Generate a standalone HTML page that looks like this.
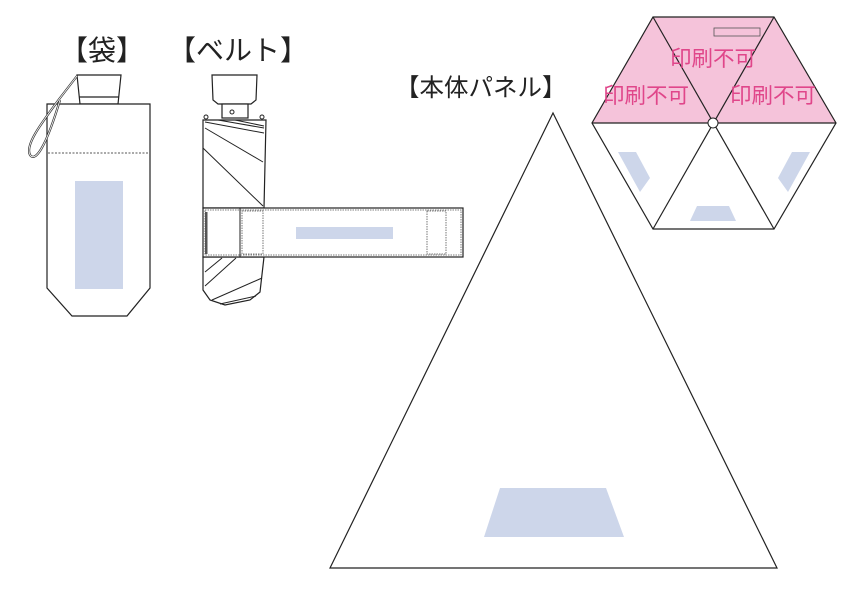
<!DOCTYPE html>
<html><head><meta charset="utf-8"><style>
html,body{margin:0;padding:0;background:#fff;}
svg{display:block;}
text{font-family:"Liberation Sans","Noto Sans CJK JP",sans-serif;}
</style></head><body>
<svg width="848" height="600" viewBox="0 0 848 600" xmlns="http://www.w3.org/2000/svg">
<rect width="848" height="600" fill="#fff"/>
<g fill="#222" font-size="28">
<text x="60" y="60">【袋】</text>
<text x="168" y="60">【ベルト】</text>
<text x="395" y="96" font-size="24.5">【本体パネル】</text>
</g>
<!-- bag -->
<g stroke="#222" stroke-width="1.2" fill="#fff">
<path d="M77 75 L121 75 L118 104 L80 104 Z"/>
<line x1="79" y1="97" x2="119" y2="97"/>
<path d="M47 104 L150 104 L150 288 L127 316 L72 316 L47 288 Z"/>
</g>
<line x1="48" y1="153" x2="149" y2="153" stroke="#555" stroke-width="1" stroke-dasharray="2,1.5"/>
<rect x="75" y="181" width="48" height="108" fill="#cdd6ea"/>
<path d="M77 76 L60 98 C40 125 25 145 30 155 C35 162 45 150 60 100" fill="none" stroke="#333" stroke-width="2.2"/>
<path d="M77 76 L60 98 C40 125 25 145 30 155 C35 162 45 150 60 100" fill="none" stroke="#fff" stroke-width="0.8"/>
<!-- belt umbrella -->
<g stroke="#222" stroke-width="1.2" fill="#fff">
<path d="M212 75 L257 75 L256 100 L251 104 L218 104 L213 100 Z"/>
<rect x="222" y="104" width="26" height="14"/>
<path d="M203 120 L266 120 L264 208 L203 208 Z"/>
<path d="M203 257 L264 257 L260 292 L250 300 L225 305 L210 300 L203 290 Z"/>
<rect x="203" y="208" width="260" height="49"/>
</g>
<g stroke="#222" stroke-width="1" fill="none">
<line x1="205" y1="122" x2="264" y2="133"/><line x1="218" y1="120" x2="264" y2="128"/>
<line x1="235" y1="120" x2="264" y2="126"/><line x1="205" y1="128" x2="263" y2="162"/>
<line x1="203" y1="148" x2="263" y2="206"/>
<line x1="205" y1="272" x2="222" y2="258"/><line x1="205" y1="286" x2="236" y2="258"/>
<line x1="212" y1="300" x2="262" y2="278"/><line x1="220" y1="304" x2="256" y2="296"/>
<circle cx="206" cy="117" r="2"/><circle cx="232" cy="112" r="2"/><circle cx="262" cy="117" r="2"/>
<line x1="240" y1="208" x2="240" y2="257"/>
</g>
<g stroke="#555" stroke-width="0.8" fill="none" stroke-dasharray="1.5,1">
<rect x="205" y="210" width="256" height="45"/>
<rect x="242" y="211" width="21" height="43"/>
<rect x="427" y="211" width="19" height="43"/>
</g>
<rect x="205" y="212" width="2.5" height="42" fill="#555"/>
<rect x="296" y="227" width="97" height="12" fill="#cdd6ea"/>
<!-- big triangle -->
<polygon points="553,113 777,568 330,568" fill="#fff" stroke="#222" stroke-width="1.2"/>
<polygon points="500,488 606,488 624,537 484,537" fill="#cdd6ea"/>
<!-- hexagon -->
<polygon points="653,17 774,17 836,123 592,123" fill="#f5c3da"/>
<g stroke="#222" stroke-width="1.2" fill="none">
<polygon points="653,17 774,17 836,123 774,229 653,229 592,123"/>
<line x1="592" y1="123" x2="836" y2="123"/>
<line x1="653" y1="17" x2="774" y2="229"/>
<line x1="774" y1="17" x2="653" y2="229"/>
</g>
<circle cx="713" cy="123" r="5" fill="#fff" stroke="#222" stroke-width="1"/>
<polygon points="618,152 636,152 650,178 640,192" fill="#cdd6ea"/>
<polygon points="810,152 792,152 778,178 788,192" fill="#cdd6ea"/>
<polygon points="697,206 729,206 736,221 690,221" fill="#cdd6ea"/>
<rect x="714" y="28" width="46" height="8" fill="none" stroke="#555" stroke-width="0.8"/>
<g fill="#e0468a" font-size="21.5">
<text x="670" y="66">印刷不可</text>
<text x="603" y="103">印刷不可</text>
<text x="730" y="103">印刷不可</text>
</g>
</svg>
</body></html>
